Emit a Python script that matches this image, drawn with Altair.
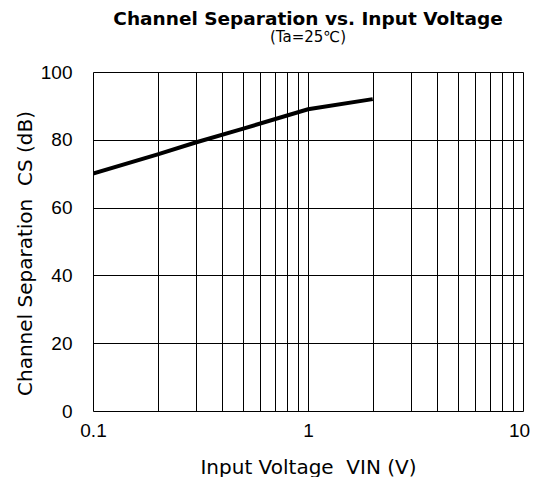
import altair as alt
import pandas as pd

vin = [0.1, 0.2, 0.3, 0.5, 1.0, 2.0]
cs = [70.0, 75.7, 79.2, 83.3, 89.0, 92.0]

x_grid = [0.1, 0.2, 0.3, 0.4, 0.5, 0.6, 0.7, 0.8, 0.9, 1, 2, 3, 4, 5, 6, 7, 8, 9, 10]
y_ticks = [0, 20, 40, 60, 80, 100]

df = pd.DataFrame({"vin": vin, "cs": cs})

LFONT = "Liberation Sans"
TFONT = "DejaVu Sans"

chart = alt.Chart(df).mark_line(color="black", strokeWidth=4, clip=True).encode(
    x=alt.X("vin:Q", scale=alt.Scale(type="log", domain=[0.1, 10], nice=False),
            axis=alt.Axis(values=x_grid, title="Input Voltage\u00a0\u00a0VIN (V)",
                          labelExpr="(datum.value==0.1||datum.value==1||datum.value==10) ? (datum.value==0.1 ? '0.1' : format(datum.value,'d')) : ''",
                          grid=True, gridColor="black", gridOpacity=1, gridWidth=1,
                          ticks=False, domain=False, labelPadding=10,
                          labelOffset={"condition": {"test": "datum.value == 10", "value": -4}, "value": 0},
                          labelFontSize=19, titleFontSize=20, labelFont=LFONT, titleFont=TFONT,
                          titleFontWeight="normal", labelColor="black", titleColor="black",
                          titleY=62, titleBaseline="alphabetic",
                          labelFlush=False)),
    y=alt.Y("cs:Q", scale=alt.Scale(domain=[0, 100], nice=False),
            axis=alt.Axis(values=y_ticks, title="Channel Separation\u00a0\u00a0CS (dB)",
                          grid=True, gridColor="black", gridOpacity=1, gridWidth=1,
                          ticks=False, domain=False, labelPadding=21,
                          labelFontSize=19, titleFontSize=20, labelFont=LFONT, titleFont=TFONT,
                          titleFontWeight="normal", labelColor="black", titleColor="black",
                          titleX=-62, titleY=181, titleBaseline="alphabetic")),
).properties(
    width=430, height=339,
    title=alt.TitleParams(text="Channel Separation vs. Input Voltage",
                          subtitle="(Ta=25\u2103)", anchor="middle",
                          font=TFONT, fontSize=18.5, fontWeight="bold", color="black",
                          subtitleFont=TFONT, subtitleFontSize=15, subtitleColor="black",
                          offset=18, subtitlePadding=2),
    autosize=alt.AutoSizeParams(type="none"),
    padding={"left": 85, "top": 64, "right": 8, "bottom": 66},
).configure_view(stroke="black", strokeWidth=1.5).configure(background="white")

chart.save("out.html", embed_options={"renderer": "svg", "actions": False})
